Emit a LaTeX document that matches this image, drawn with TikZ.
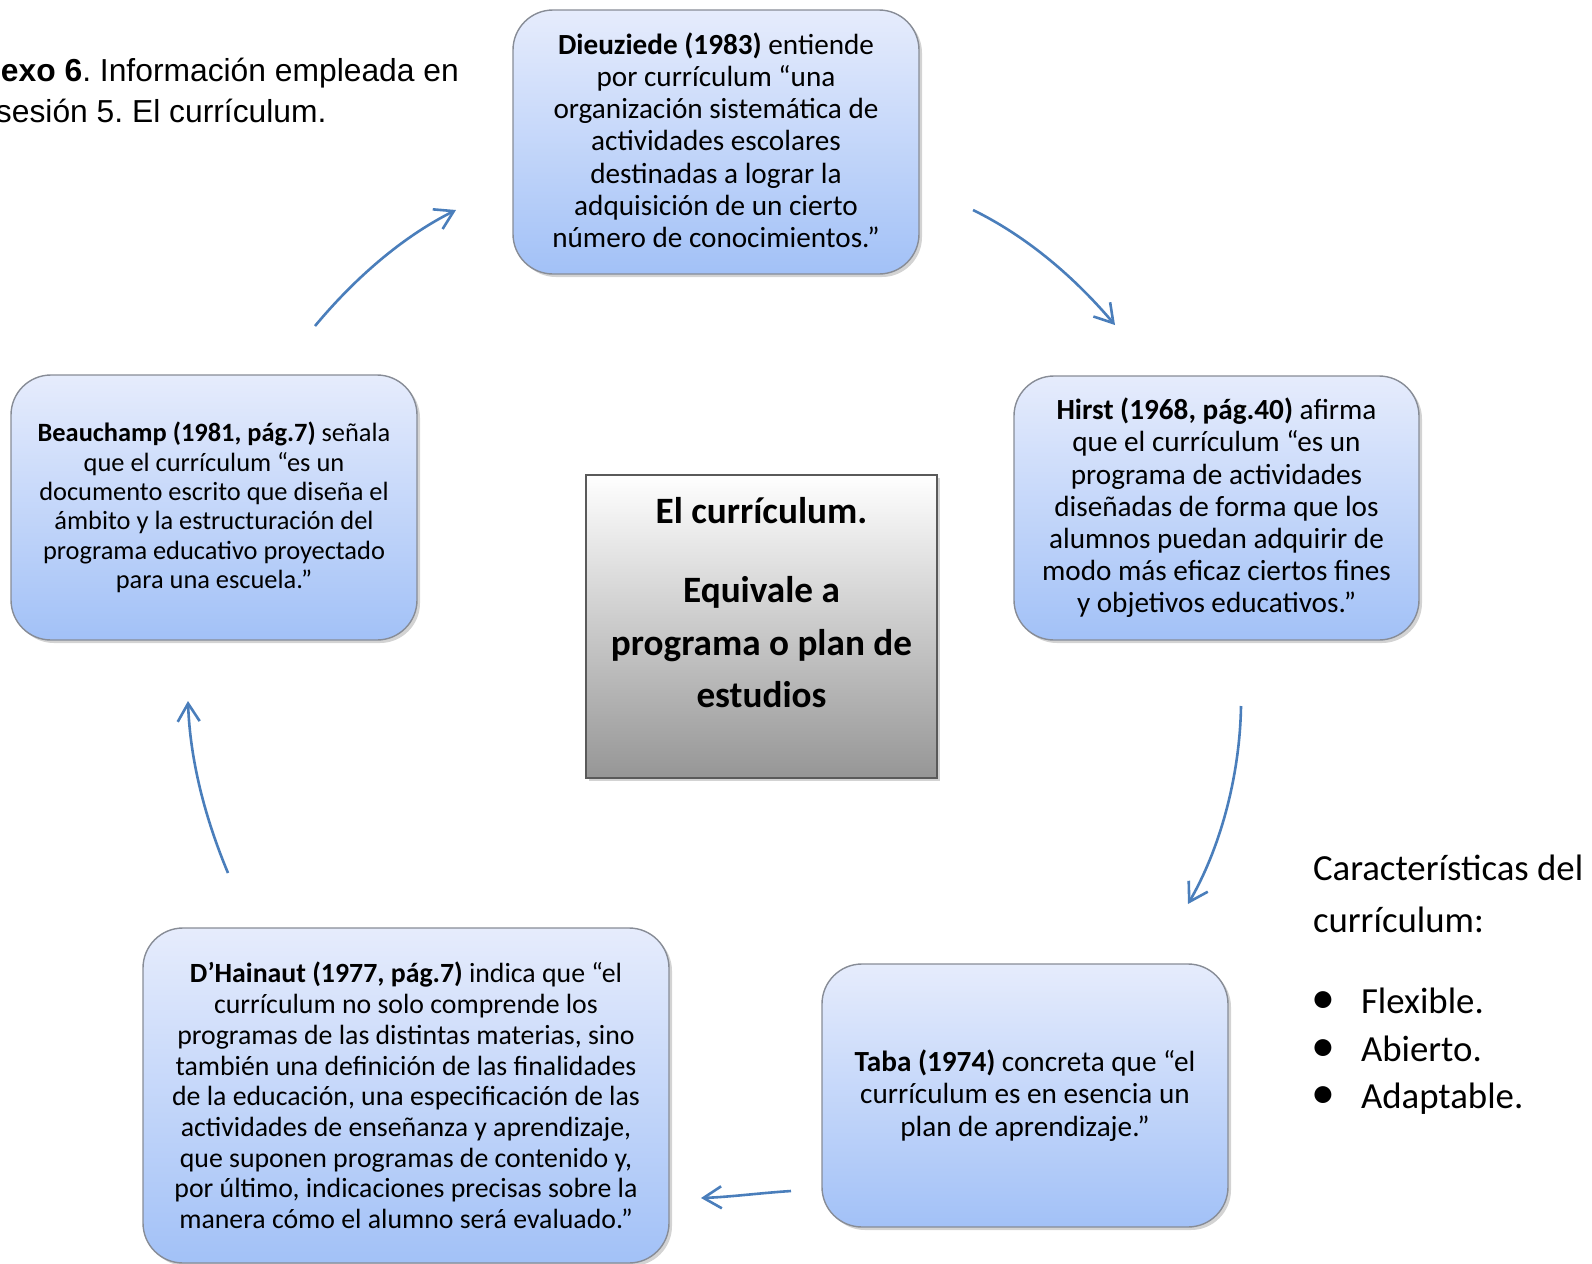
\documentclass[tikz,border=0pt]{standalone}
\usepackage{fontspec}
\setmainfont{Carlito}
\newfontfamily\arialf{Liberation Sans}
\usetikzlibrary{arrows.meta,shadows}
\frenchspacing
\definecolor{arrowblue}{RGB}{74,126,187}
\definecolor{boxtop}{RGB}{230,236,252}
\definecolor{boxbot}{RGB}{162,193,247}
\definecolor{boxline}{RGB}{135,140,150}
\definecolor{cline}{RGB}{90,90,90}
\definecolor{cbot}{RGB}{150,150,150}
\newcommand{\bul}{\makebox[25pt][l]{\scalebox{1.3}{\textbullet}}}
\tikzset{
  quotebox/.style={draw=boxline, line width=0.7pt, rounded corners=20pt,
    top color=boxtop, bottom color=boxbot, align=center, inner sep=0pt,
    drop shadow={shadow xshift=1.5pt, shadow yshift=-1.5pt, opacity=0.35}},
  qtext/.style={font=\fontsize{14.6}{16.1}\selectfont},
  flow/.style={draw=arrowblue, line width=1.3pt,
    arrows={-{Straight Barb[length=9pt,width=11pt]}}},
  plain/.style={inner sep=0pt, outer sep=0pt},
}
\begin{document}
\frenchspacing
\begin{tikzpicture}[x=0.5pt,y=-0.5pt]
\useasboundingbox (0,0) rectangle (1592,1264);

% heading top left
\node[plain, anchor=base west, font=\arialf\fontsize{15.9}{20.5}\selectfont] (h1) at (1,81)
  {\textbf{exo 6}. Información empleada en};
\node[plain, anchor=base west, font=\arialf\fontsize{15.9}{20.5}\selectfont] (h2) at (-4,122)
  {sesión 5. El currículum.};

% boxes
\node[quotebox, qtext, minimum width=203pt, minimum height=132pt] (dieu) at (716,142)
  {\textbf{Dieuziede (1983)} entiende\\por currículum “una\\organización sistemática de\\actividades escolares\\destinadas a lograr la\\adquisición de un cierto\\número de conocimientos.”\rule[-2pt]{0pt}{0pt}};

\node[quotebox, qtext, minimum width=202.5pt, minimum height=132pt] (hirst) at (1216.5,508)
  {\textbf{Hirst (1968, pág.40)} afirma\\que el currículum “es un\\programa de actividades\\diseñadas de forma que los\\alumnos puedan adquirir de\\modo más eficaz ciertos fines\\y objetivos educativos.”};

\node[quotebox, font=\fontsize{13.2}{14.7}\selectfont, minimum width=203pt, minimum height=132.5pt] (beau) at (214,507.5)
  {\textbf{Beauchamp (1981, pág.7)} señala\\que el currículum “es un\\documento escrito que diseña el\\ámbito y la estructuración del\\programa educativo proyectado\\para una escuela.”};

\node[quotebox, qtext, minimum width=203pt, minimum height=131.5pt] (taba) at (1025,1095.5)
  {\textbf{Taba (1974)} concreta que “el\\currículum es en esencia un\\plan de aprendizaje.”};

\node[quotebox, font=\fontsize{13.9}{15.35}\selectfont, minimum width=263pt, minimum height=167.5pt] (dhai) at (406,1095.5)
  {\textbf{D’Hainaut (1977, pág.7)} indica que “el\\currículum no solo comprende los\\programas de las distintas materias, sino\\también una definición de las finalidades\\de la educación, una especificación de las\\actividades de enseñanza y aprendizaje,\\que suponen programas de contenido y,\\por último, indicaciones precisas sobre la\\manera cómo el alumno será evaluado.”};

% centre box
\node[draw=cline, line width=1.2pt, top color=white, bottom color=cbot,
      minimum width=175.5pt, minimum height=151.5pt, inner sep=0pt,
      drop shadow={shadow xshift=1.5pt, shadow yshift=-1.5pt, opacity=0.35}] (cbox) at (761.5,626.5) {};
\node[plain, align=center, font=\bfseries\fontsize{18.6}{26.25}\selectfont] (ctext) at (761.5,603)
  {El currículum.\\[13.25pt]Equivale a\\programa o plan de\\estudios};

% characteristics
\node[plain, anchor=base west, align=left, font=\fontsize{18.4}{26}\selectfont] (carac) at (1313,932)
  {Características del\\currículum:};
\node[plain, anchor=base west, align=left, font=\fontsize{18.4}{23.75}\selectfont] (list) at (1311,1108.5)
  {\bul Flexible.\\\bul Abierto.\\\bul Adaptable.};

% arrows
\coordinate (a1s) at (315,326);  \coordinate (a1e) at (456,210);
\coordinate (a2s) at (973,210);  \coordinate (a2e) at (1115,325);
\coordinate (a3s) at (1241,706); \coordinate (a3e) at (1188,904);
\coordinate (a4s) at (791,1191); \coordinate (a4e) at (701,1198);
\coordinate (a5s) at (228,873);  \coordinate (a5e) at (188,701);
\draw[flow] (a1s) .. controls (360,272) and (408,234) .. (a1e);
\draw[flow] (a2s) .. controls (1022,234) and (1070,272) .. (a2e);
\draw[flow] (a3s) .. controls (1240,772) and (1222,845) .. (a3e);
\draw[flow] (a4s) .. controls (760,1193) and (730,1197) .. (a4e);
\draw[flow] (a5s) .. controls (205,818) and (190,760) .. (a5e);
\end{tikzpicture}
\end{document}
